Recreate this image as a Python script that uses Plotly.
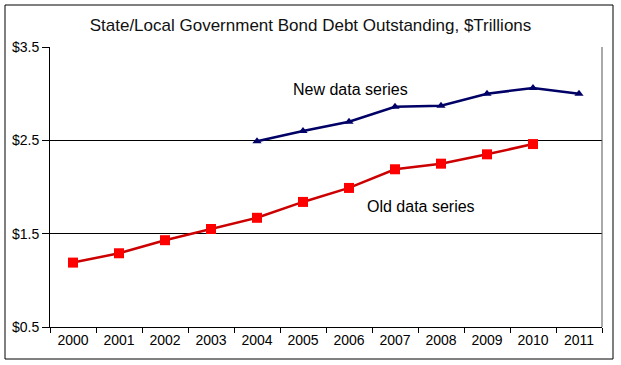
import plotly.graph_objects as go

years = ["2000", "2001", "2002", "2003", "2004", "2005", "2006", "2007", "2008", "2009", "2010", "2011"]
old_years = ["2000", "2001", "2002", "2003", "2004", "2005", "2006", "2007", "2008", "2009", "2010"]
old_values = [1.19, 1.29, 1.43, 1.55, 1.67, 1.84, 1.99, 2.19, 2.25, 2.35, 2.46]
new_years = ["2004", "2005", "2006", "2007", "2008", "2009", "2010", "2011"]
new_values = [2.49, 2.60, 2.70, 2.86, 2.87, 3.00, 3.06, 3.00]
y_ticks = [0.5, 1.5, 2.5, 3.5]
y_tick_labels = ["$0.5", "$1.5", "$2.5", "$3.5"]

W, H = 621, 365
L, R, T, B = 50, 19, 47, 38
FONT = "Liberation Sans, Arial, sans-serif"

def px_x(p):
    return (p - L) / (W - L - R)

def px_y(p):
    return 1 - (p - T) / (H - T - B)

fig = go.Figure()
fig.add_trace(go.Scatter(
    x=old_years, y=old_values, mode="lines+markers",
    line=dict(color="#cc0000", width=2.5),
    marker=dict(symbol="square", size=10, color="#ff0000", line=dict(width=0)),
    showlegend=False, name="Old data series"))
fig.add_trace(go.Scatter(
    x=new_years, y=new_values, mode="lines+markers",
    line=dict(color="#000066", width=2.5),
    marker=dict(symbol="triangle-up", size=8, color="#000066", line=dict(width=0)),
    showlegend=False, name="New data series"))

fig.update_layout(
    width=W, height=H,
    margin=dict(l=L, r=R, t=T, b=B, autoexpand=False),
    paper_bgcolor="white", plot_bgcolor="white",
    font=dict(family=FONT, color="black", size=14),
    title=dict(text="State/Local Government Bond Debt Outstanding, $Trillions",
               x=0.5, xref="container", xanchor="center",
               y=1 - 25 / H, yref="container", yanchor="middle",
               font=dict(family=FONT, size=17, color="#111111")),
    xaxis=dict(type="category", categoryorder="array", categoryarray=years,
               range=[-0.5, 11.5], tickson="boundaries", ticks="outside",
               ticklen=5, tickcolor="black", showline=True, linecolor="black",
               linewidth=1, showgrid=False, zeroline=False, automargin=False,
               tickfont=dict(size=14, family=FONT)),
    yaxis=dict(range=[0.5, 3.5], tickvals=y_ticks, ticktext=y_tick_labels,
               ticks="outside", ticklen=7, tickcolor="black",
               showline=True, linecolor="black", linewidth=1, automargin=False,
               showgrid=True, gridcolor="black", gridwidth=1, zeroline=False,
               tickfont=dict(size=14, family=FONT)),
    annotations=[
        dict(text="New data series", x=6.04, y=3.05, xref="x", yref="y",
             showarrow=False, font=dict(size=16, family=FONT)),
        dict(text="Old data series", x=7.57, y=1.79, xref="x", yref="y",
             showarrow=False, font=dict(size=16, family=FONT)),
    ],
    shapes=[
        dict(type="rect", xref="paper", yref="paper",
             x0=px_x(5), x1=px_x(613), y0=px_y(359), y1=px_y(5),
             line=dict(color="black", width=1), layer="below"),
        dict(type="line", xref="paper", yref="paper",
             x0=1, x1=1, y0=0, y1=1, line=dict(color="#555555", width=1)),
    ],
)

fig.write_html("out.html", config={"displayModeBar": False},
               post_script="document.body.style.margin='0';document.body.style.padding='0';")
